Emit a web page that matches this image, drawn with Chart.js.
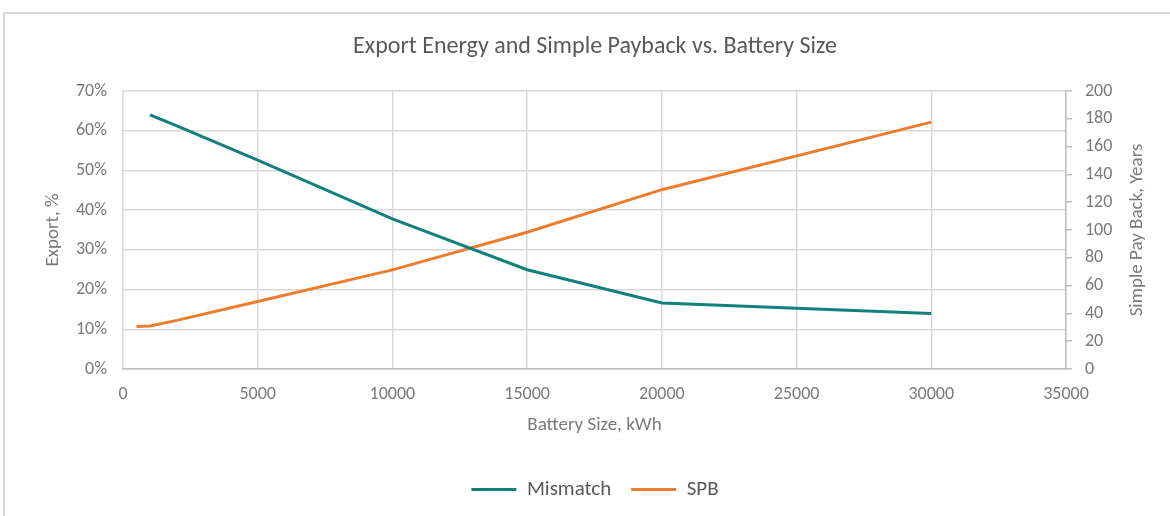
<!DOCTYPE html>
<html>
<head>
<meta charset="utf-8">
<script src="https://cdn.jsdelivr.net/npm/chart.js@4/dist/chart.umd.min.js"></script>
<style>
    html, body { margin: 0; padding: 0; background: #fff; }
    #frame { position: absolute; left: 3px; top: 12px; width: 1200px; height: 540px; border: 2px solid #d9d9d9; }
    #wrap { position: absolute; left: 0; top: 0; width: 1170px; height: 516px; }
</style>
</head>
<body>
<div id="frame"></div>
<div id="wrap"><canvas id="grafico"></canvas></div>
<script>
// Battery size (kWh) and the two series
const batterySize = [500, 1000, 2000, 5000, 10000, 15000, 20000, 30000];
const mismatch = [null, 64.0, 61.2, 52.6, 37.8, 25.0, 16.6, 14.0];   // export, %
const spb = [30.5, 31.0, 35.0, 48.6, 71.3, 98.4, 129.0, 177.6];      // years

const FONT = 'Carlito, "Open Sans", sans-serif';
const GREY = '#7a7a7a';
const RIGHT_TITLE = 'Simple Pay Back, Years';

// Excel writes the right axis title bottom-to-top, Chart.js does the opposite
const rightTitle = {
    id: 'rightTitle',
    afterDraw(chart) {
        const c = chart.ctx;
        const area = chart.chartArea;
        c.save();
        c.translate(1137, (area.top + area.bottom) / 2);
        c.rotate(-Math.PI / 2);
        c.font = '19px ' + FONT;
        c.fillStyle = GREY;
        c.textAlign = 'center';
        c.textBaseline = 'middle';
        c.fillText(RIGHT_TITLE, 0, 0);
        c.restore();
    }
};

const ctx = document.getElementById('grafico').getContext('2d');
new Chart(ctx, {
    type: 'line',
    data: {
        datasets: [{
            label: 'Mismatch',
            data: batterySize.map((x, i) => ({ x: x, y: mismatch[i] })),
            borderColor: '#12807c',
            backgroundColor: '#12807c',
            borderWidth: 3,
            pointRadius: 0,
            tension: 0,
            yAxisID: 'y'
        }, {
            label: 'SPB',
            data: batterySize.map((x, i) => ({ x: x, y: spb[i] })),
            borderColor: '#ed7d31',
            backgroundColor: '#ed7d31',
            borderWidth: 3,
            pointRadius: 0,
            tension: 0,
            yAxisID: 'y2'
        }]
    },
    plugins: [rightTitle],
    options: {
        responsive: true,
        maintainAspectRatio: false,
        animation: false,
        layout: { padding: { top: 0, left: 20, right: 0, bottom: 6 } },
        plugins: {
            title: {
                display: true,
                text: 'Export Energy and Simple Payback vs. Battery Size',
                color: '#595959',
                font: { family: FONT, size: 24, weight: 'normal' },
                padding: { top: 32.6, bottom: 29.6 }
            },
            legend: {
                position: 'bottom',
                labels: {
                    color: '#595959',
                    font: { family: FONT, size: 21 },
                    usePointStyle: true,
                    pointStyle: 'line',
                    pointStyleWidth: 45,
                    padding: 20
                }
            },
            tooltip: { enabled: false }
        },
        scales: {
            x: {
                type: 'linear',
                min: 0,
                max: 35000,
                ticks: { stepSize: 5000, color: GREY, font: { family: FONT, size: 18 }, padding: 15, maxRotation: 0, callback: v => String(v) },
                grid: { color: '#d9d9d9', lineWidth: 1.5, drawTicks: false },
                border: { color: '#bfbfbf', width: 1.5 },
                title: { display: true, text: 'Battery Size, kWh', color: GREY, font: { family: FONT, size: 19 }, padding: { top: 0, bottom: 22.6 } },
                afterFit: function (scale) { scale.height = 90; }
            },
            y: {
                position: 'left',
                min: 0,
                max: 70,
                ticks: { stepSize: 10, color: GREY, font: { family: FONT, size: 18 }, padding: 16, callback: v => v + '%' },
                grid: { color: '#d9d9d9', lineWidth: 1.5, drawTicks: false },
                border: { display: false },
                title: { display: true, text: 'Export, %', color: GREY, font: { family: FONT, size: 19 }, padding: { top: 21.6, bottom: 0 } },
                afterFit: function (scale) { scale.width = 103; }
            },
            y2: {
                position: 'right',
                min: 0,
                max: 200,
                ticks: { stepSize: 20, color: GREY, font: { family: FONT, size: 18 }, padding: 13 },
                grid: { drawOnChartArea: false, color: '#bfbfbf', lineWidth: 1.5, tickLength: 6 },
                border: { color: '#bfbfbf', width: 1.5 },
                title: { display: false },
                afterFit: function (scale) { scale.width = 104; }
            }
        }
    }
});
</script>
</body>
</html>
